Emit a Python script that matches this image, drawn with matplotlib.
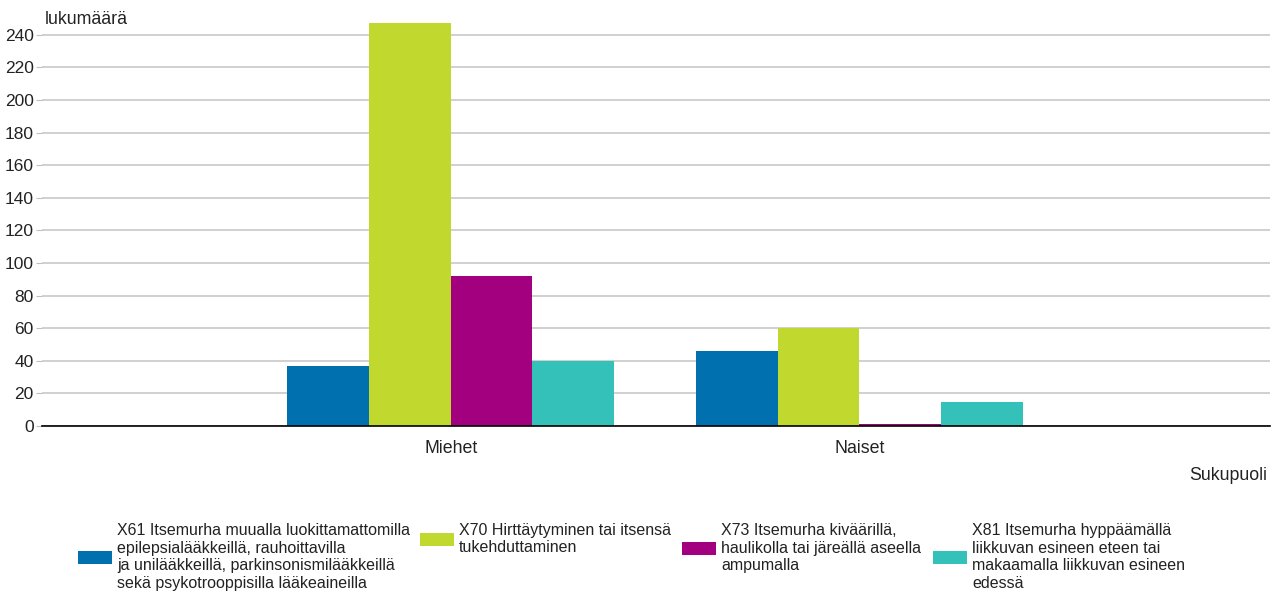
import matplotlib
matplotlib.use("Agg")
import matplotlib.pyplot as plt
import numpy as np

plt.rcParams['font.family'] = ['Liberation Sans', 'DejaVu Sans']

categories = ["Miehet", "Naiset"]
series_labels = [
    "X61 Itsemurha muualla luokittamattomilla\nepilepsialääkkeillä, rauhoittavilla\nja unilääkkeillä, parkinsonismilääkkeillä\nsekä psykotrooppisilla lääkeaineilla",
    "X70 Hirttäytyminen tai itsensä\ntukehduttaminen",
    "X73 Itsemurha kiväärillä,\nhaulikolla tai järeällä aseella\nampumalla",
    "X81 Itsemurha hyppäämällä\nliikkuvan esineen eteen tai\nmakaamalla liikkuvan esineen\nedessä",
]
x61 = [37, 46]
x70 = [247, 60]
x73 = [92, 1]
x81 = [40, 15]
colors = ["#0070ae", "#c1d82f", "#a3007f", "#33c1b9"]
yticks = list(range(0, 241, 20))

fig = plt.figure(figsize=(12.77, 5.93), dpi=100)
ax = fig.add_axes([42/1277, 1-426/593, (1270-42)/1277, (426-20)/593])

x = np.arange(len(categories))
w = 0.2
handles = []
for i, (vals, c, lab) in enumerate(zip([x61, x70, x73, x81], colors, series_labels)):
    h = ax.bar(x + (i - 1.5) * w, vals, width=w, color=c, label=lab, zorder=3)
    handles.append(h)

ax.set_xlim(-1.0, 2.005)
ax.set_ylim(0, 249)
ax.set_yticks(yticks)
ax.set_xticks(x)
ax.set_xticklabels(categories, fontsize=12.8, color="#222222")
ax.tick_params(axis='x', length=0, pad=10)
ax.tick_params(axis='y', length=4, color="#c0c0c0", labelsize=12.5, labelcolor="#222222", pad=2)
ax.grid(axis='y', color="#c8c8c8", linewidth=1.2, zorder=0)
for s in ["top", "right", "left"]:
    ax.spines[s].set_visible(False)
ax.spines["bottom"].set_color("#000000")
ax.spines["bottom"].set_linewidth(1.2)
ax.spines["bottom"].set_zorder(4)

fig.text(45/1277, 1-20/593, "lukumäärä", fontsize=12.8, color="#222222", ha="left", va="center")
fig.text(1267/1277, 1-476/593, "Sukupuoli", fontsize=12.8, color="#222222", ha="right", va="center")

legx = [78, 420, 682, 933]
legy = [557, 539, 548, 557]
for h, lab, lx, ly in zip(handles, series_labels, legx, legy):
    leg = fig.legend([h], [lab], loc="center left", bbox_to_anchor=(lx/1277, 1-ly/593),
                     frameon=False, fontsize=11.5, handlelength=2.1, handleheight=0.9,
                     handletextpad=0.35, borderpad=0, borderaxespad=0, labelspacing=0,
                     labelcolor="#222222")
    for t in leg.get_texts():
        t.set_linespacing(1.22)

fig.savefig("out.png", dpi=100)
